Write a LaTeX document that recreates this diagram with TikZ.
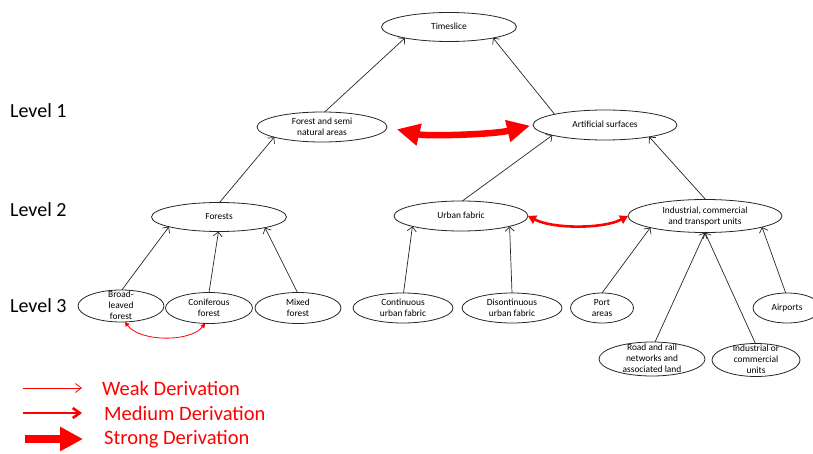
\documentclass[tikz,border=0pt]{standalone}
\usepackage{fontspec}
\setmainfont{Carlito}
\usetikzlibrary{arrows.meta,shapes.geometric}
\newcommand\ntxt[1]{\smash{\raisebox{-2.6pt}{\begin{tabular}{@{}c@{}}#1\end{tabular}}}}
\begin{document}
\begin{tikzpicture}[x=1pt,y=-1pt,
  cls/.style={ellipse,draw=black!85,line width=0.8pt,inner sep=0pt,outer sep=0pt,font=\fontsize{9.4}{11}\selectfont},
  lvl/.style={anchor=west,inner sep=0pt,font=\fontsize{20}{24}\selectfont},
  leg/.style={anchor=west,inner sep=0pt,text=red,font=\fontsize{20.5}{24}\selectfont},
  sub/.style={draw=black!85,line width=0.7pt,-{Straight Barb[length=4.5pt,width=9pt]}},
  weakder/.style={draw=red,line width=0.8pt},
  medder/.style={draw=red,line width=2.6pt},
  strongder/.style={draw=red,line width=6.5pt}
]
\useasboundingbox (0,0) rectangle (813,454);

% level labels
\node[lvl] (l1) at (10,111) {Level 1};
\node[lvl] (l2) at (10,210) {Level 2};
\node[lvl] (l3) at (10,306) {Level 3};

% nodes
\node[cls,minimum width=135pt,minimum height=29pt] (ts) at (449,27) {\ntxt{Timeslice}};
\node[cls,minimum width=130pt,minimum height=30pt] (fs) at (322,127) {\ntxt{Forest and semi\\natural areas}};
\node[cls,minimum width=144pt,minimum height=30pt] (as) at (605,125) {\ntxt{Artificial surfaces}};
\node[cls,minimum width=135pt,minimum height=29pt] (fo) at (219,217) {\ntxt{Forests}};
\node[cls,minimum width=134pt,minimum height=30pt] (uf) at (461,216) {\ntxt{Urban fabric}};
\node[cls,minimum width=154pt,minimum height=33pt] (ic) at (705,216) {\ntxt{Industrial, commercial\\and transport units}};
\node[cls,minimum width=86pt,minimum height=32pt] (bl) at (121,306) {\ntxt{Broad-\\leaved\\forest}};
\node[cls,minimum width=87pt,minimum height=31pt] (cf) at (209,308) {\ntxt{Coniferous\\forest}};
\node[cls,minimum width=86pt,minimum height=31pt] (mf) at (298,308) {\ntxt{Mixed\\forest}};
\node[cls,minimum width=100pt,minimum height=30pt] (cu) at (403,308) {\ntxt{Continuous\\urban fabric}};
\node[cls,minimum width=100pt,minimum height=30pt] (du) at (512,308) {\ntxt{Disontinuous\\urban fabric}};
\node[cls,minimum width=63pt,minimum height=30pt] (pa) at (602,308) {\ntxt{Port\\areas}};
\node[cls,minimum width=68pt,minimum height=30pt] (ap) at (787,308) {\ntxt{Airports}};
\node[cls,minimum width=106pt,minimum height=34pt] (rr) at (652,359) {\ntxt{Road and rail\\networks and\\associated land}};
\node[cls,minimum width=88pt,minimum height=33pt] (io) at (756,360) {\ntxt{Industrial or\\commercial\\units}};

% hierarchy edges
\draw[sub] (fs.80) -- (ts.194);
\draw[sub] (as.168) -- (ts.346);
\draw[sub] (fo.88) -- (fs.192);
\draw[sub] (uf.85) -- (as.191);
\draw[sub] (ic.88) -- (as.345);
\draw[sub] (bl.87) -- (fo.191);
\draw[sub] (cf.90) -- (fo.268);
\draw[sub] (mf.92) -- (fo.347);
\draw[sub] (cu.88) -- (uf.192);
\draw[sub] (du.90) -- (uf.348);
\draw[sub] (pa.90) -- (ic.192);
\draw[sub] (rr.80) -- (ic.270);
\draw[sub] (io.92) -- (ic.270);
\draw[sub] (ap.95) -- (ic.349);

% derivation arrows
\draw[weakder,{Triangle[length=4.5pt,width=4.5pt]}-{Triangle[length=4.5pt,width=4.5pt]}]
  (bl.284) .. controls +(15,20) and +(-15,19) .. (cf.256);
\draw[medder,{Triangle[length=8pt,width=9pt]}-{Triangle[length=8pt,width=9pt]}]
  (uf.east) .. controls +(25,13) and +(-25,13) .. (ic.west);
\draw[strongder,{Triangle[length=23pt,width=21pt]}-{Triangle[length=23pt,width=21pt]},shorten <=10pt,shorten >=3pt]
  (fs.east) .. controls +(40,9.5) and +(-40,9.5) .. (as.west);

% legend
\coordinate (w1) at (23,388);  \coordinate (w2) at (82,388);
\coordinate (m1) at (23,413);  \coordinate (m2) at (82,413);
\coordinate (s1) at (25,439);  \coordinate (s2) at (83,439);
\draw[weakder,-{Straight Barb[length=6pt,width=9pt]}] (w1) -- (w2);
\draw[medder,-{Straight Barb[length=7pt,width=10pt]}] (m1) -- (m2);
\draw[draw=red,line width=8pt,-{Triangle[length=23pt,width=23pt]}] (s1) -- (s2);
\node[leg] (tw) at (102,388) {Weak Derivation};
\node[leg] (tm) at (104,413) {Medium Derivation};
\node[leg] (tsd) at (104,439) {Strong Derivation};
\end{tikzpicture}
\end{document}
